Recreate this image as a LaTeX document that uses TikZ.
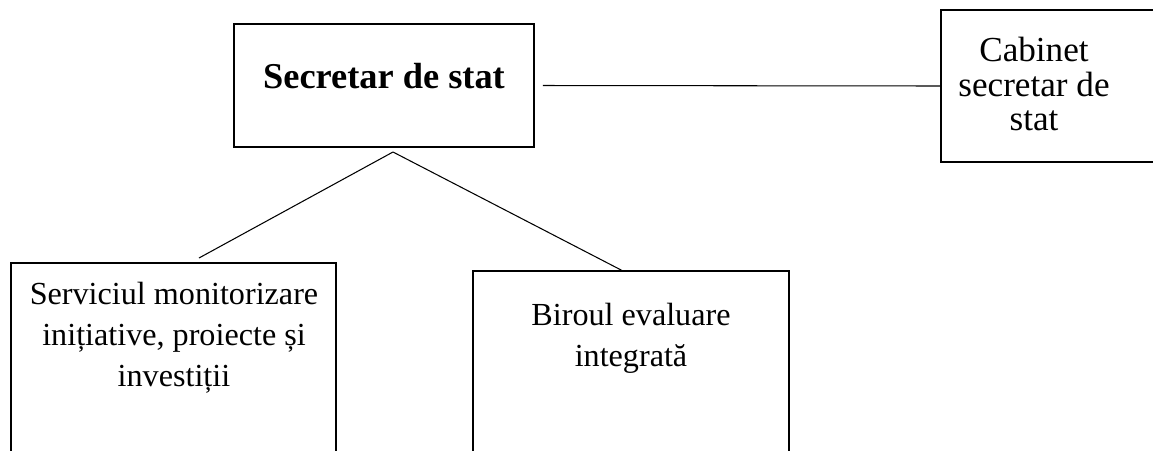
\documentclass[tikz,border=0pt]{standalone}
\usepackage{fontspec}
\setmainfont{Liberation Serif}
\tikzset{
% Boxes of the chart and the thin lines that join them
unit box/.style={draw,line width=1.1pt,inner sep=0},
unit text/.style={align=center,font=\fontsize{18.3}{23.3}\selectfont},
link/.style={line width=0.6pt}
}

\begin{document}
\begin{tikzpicture}[x=0.02cm,y=-0.02cm]
\useasboundingbox (0,0) rectangle (1153,450);
% The boxes
\node(sec)[unit box,minimum width=6cm,minimum height=2.46cm] at (384,85.5){};
\node(cab)[unit box,minimum width=4.48cm,minimum height=3.04cm] at (1053,86){};
\node(serv)[unit box,minimum width=6.5cm,minimum height=5.14cm] at (173.5,391.5){};
\node(bir)[unit box,minimum width=6.32cm,minimum height=4.98cm] at (631,395.5){};
% The texts
\node(sectxt)[font=\fontsize{20.7}{25}\selectfont\bfseries] at (384,76){Secretar de stat};
\node(cabtxt)[unit text,font=\fontsize{20}{19.6}\selectfont] at (1034,84){Cabinet\\secretar de\\stat};
\node(servtxt)[unit text] at (174,338){Serviciul monitorizare\\inițiative, proiecte și\\investiții};
\node(birtxt)[unit text] at (631,338){Biroul evaluare\\integrată};
% The lines
\coordinate(fork) at (393,152);
\coordinate(servend) at (199,258);
\coordinate(birend) at (623,271);
\draw[link,shorten <=0.16cm](sec.east)--(cab.west);
\draw[link](fork)--(servend);
\draw[link](fork)--(birend);
\end{tikzpicture}
\end{document}
